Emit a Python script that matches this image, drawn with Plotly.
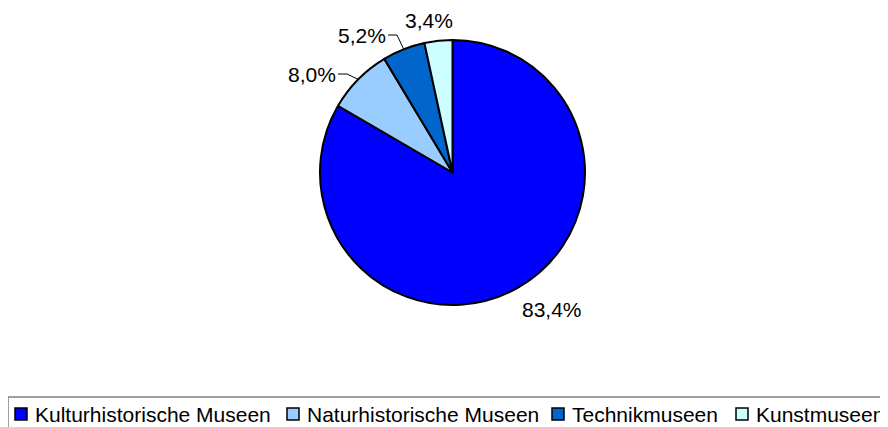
import numpy as np
import plotly.graph_objects as go

W, H = 888, 427
OFF = 8  # page body margin in the browser

# data
categories = ["Kulturhistorische Museen", "Naturhistorische Museen", "Technikmuseen", "Kunstmuseen"]
shares = [83.4, 8.0, 5.2, 3.4]
labels = ["83,4%", "8,0%", "5,2%", "3,4%"]
colors = ["#0000FF", "#99CCFF", "#0066CC", "#CCFFFF"]

# layout (screen pixels)
cx, cy, R = 452.5, 172.5, 132.5
label_pos = [(552, 309), (312, 75), (362, 36), (429, 20)]
leader = [False, True, True, False]
legend_x = [15, 287, 552, 736]
legend_y = 414
font = "Liberation Sans, Arial, sans-serif"


def px(x, y):
    return (x - OFF) / W, 1 - (y - OFF) / H


fig = go.Figure()
d0 = px(cx - R, cy + R)
d1 = px(cx + R, cy - R)
fig.add_trace(go.Pie(
    labels=categories, values=shares, sort=False, direction="clockwise", rotation=0,
    marker=dict(colors=colors, line=dict(color="black", width=2)),
    textinfo="none", hoverinfo="label+percent", showlegend=False,
    domain=dict(x=[d0[0], d1[0]], y=[d0[1], d1[1]]),
))

# slice labels and leader lines
ends = np.cumsum(shares) / np.sum(shares) * 360
mids = ends - np.array(shares) / np.sum(shares) * 180
shapes = []
annotations = []
for i, lab in enumerate(labels):
    lx, ly = label_pos[i]
    ax, ay = px(lx, ly)
    annotations.append(dict(x=ax, y=ay, xref="paper", yref="paper", text=lab, showarrow=False,
                            xanchor="center", yanchor="middle", font=dict(size=21, color="black", family=font)))
    if leader[i]:
        th = np.radians(mids[i])
        ex, ey = cx + R * np.sin(th), cy - R * np.cos(th)
        right = lx + 26
        p0 = px(right, ly - 1)
        p1 = px(right + 9, ly - 1)
        p2 = px(ex, ey)
        shapes.append(dict(type="path", xref="paper", yref="paper",
                           path=f"M{p0[0]},{p0[1]} L{p1[0]},{p1[1]} L{p2[0]},{p2[1]}",
                           line=dict(color="black", width=1)))

# legend box
b0 = px(8, 397)
b1 = px(900, 445)
shapes.append(dict(type="rect", xref="paper", yref="paper", x0=b0[0], y0=b1[1], x1=b1[0], y1=b0[1],
                   line=dict(color="#808080", width=1.5), fillcolor="rgba(0,0,0,0)"))
for i, cat in enumerate(categories):
    m0 = px(legend_x[i], legend_y - 6)
    m1 = px(legend_x[i] + 12, legend_y + 6)
    shapes.append(dict(type="rect", xref="paper", yref="paper", x0=m0[0], y0=m1[1], x1=m1[0], y1=m0[1],
                       line=dict(color="black", width=1.5), fillcolor=colors[i]))
    t = px(legend_x[i] + 18, legend_y)
    annotations.append(dict(x=t[0], y=t[1], xref="paper", yref="paper", text=cat, showarrow=False,
                            xanchor="left", yanchor="middle", font=dict(size=21, color="black", family=font)))

fig.update_layout(
    width=W, height=H, margin=dict(l=0, r=0, t=0, b=0),
    paper_bgcolor="white", plot_bgcolor="white",
    shapes=shapes, annotations=annotations, showlegend=False,
)
fig.write_html("out.html")
